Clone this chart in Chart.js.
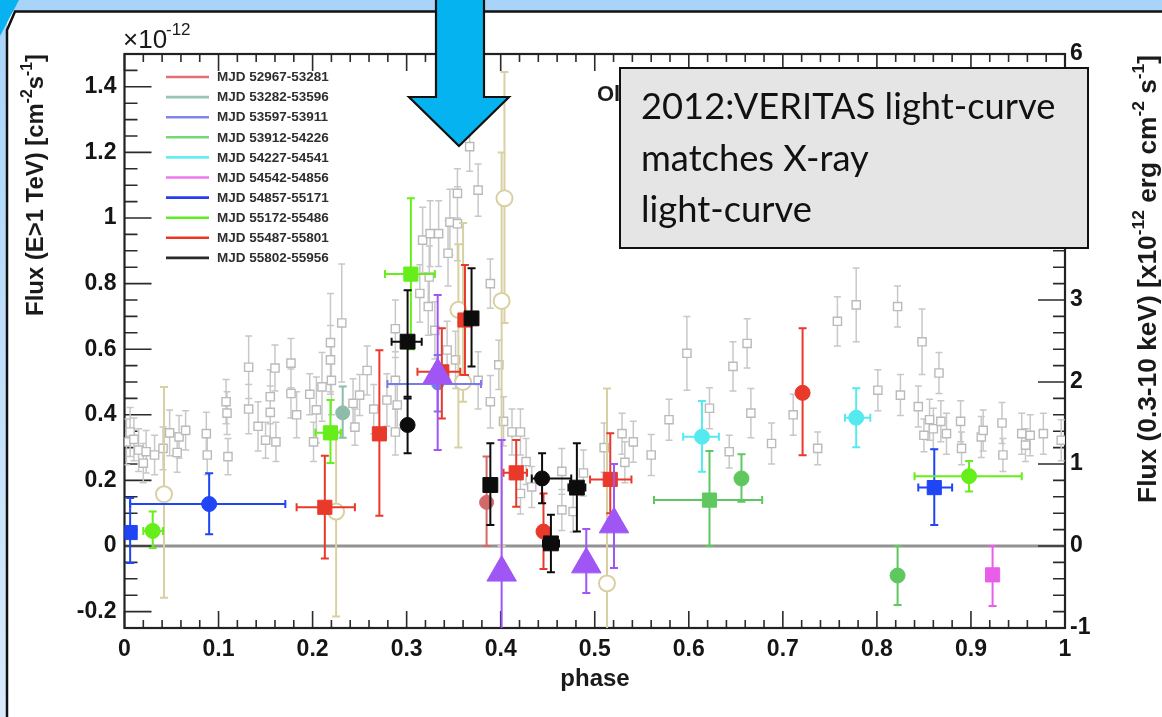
<!DOCTYPE html>
<html>
<head>
<meta charset="utf-8">
<title>VERITAS light-curve vs X-ray</title>
<script src="https://cdn.jsdelivr.net/npm/chart.js@4.4.1/dist/chart.umd.min.js"></script>
<style>
  html, body { margin: 0; padding: 0; background: #ffffff; }
  #wrap { width: 1162px; height: 717px; }
</style>
</head>
<body>
<div id="wrap"><canvas id="lightCurve" width="1162" height="717"></canvas></div>
<script>
// ---- Axis tick values ----
const phaseTicks = [0, 0.1, 0.2, 0.3, 0.4, 0.5, 0.6, 0.7, 0.8, 0.9, 1];
const tevTicks = [-0.2, 0, 0.2, 0.4, 0.6, 0.8, 1, 1.2, 1.4];
const xrayTicks = [-1, 0, 1, 2, 3, 4, 5, 6];

// ---- X-ray light-curve (right axis, x10^-12 erg cm^-2 s^-1) ----
const xrayPhase = [0.002, 0.006, 0.010, 0.015, 0.020, 0.023, 0.032, 0.041, 0.048, 0.056, 0.058, 0.065, 0.087, 0.088,
  0.108, 0.109, 0.110, 0.132, 0.132, 0.142, 0.150, 0.155, 0.155, 0.160, 0.161, 0.177, 0.177, 0.183, 0.197, 0.201,
  0.204, 0.210, 0.219, 0.219, 0.220, 0.231, 0.243, 0.245, 0.250, 0.258, 0.265, 0.279, 0.288, 0.288, 0.290, 0.288,
  0.314, 0.317, 0.323, 0.324, 0.325, 0.330, 0.334, 0.343, 0.344, 0.346, 0.352, 0.354, 0.354, 0.367, 0.376, 0.376,
  0.389, 0.389, 0.398, 0.403, 0.412, 0.421, 0.421, 0.427, 0.433, 0.465, 0.465, 0.477, 0.488, 0.510, 0.529, 0.532,
  0.541, 0.560, 0.579, 0.598, 0.622, 0.643, 0.647, 0.662, 0.666, 0.688, 0.711, 0.737, 0.758, 0.778, 0.801, 0.822,
  0.825, 0.844, 0.848, 0.850, 0.856, 0.860, 0.866, 0.868, 0.874, 0.889, 0.890, 0.911, 0.913, 0.933, 0.934, 0.954,
  0.958, 0.963, 0.977, 0.996];
const xrayFlux = [1.27, 1.39, 1.30, 1.17, 1.01, 1.15, 1.11, 1.19, 1.38, 1.14, 1.33, 1.41, 1.37, 1.11,
  1.76, 1.62, 1.09, 2.18, 1.67, 1.46, 1.29, 1.82, 1.63, 2.17, 1.27, 2.23, 1.86, 1.60, 1.85, 1.27,
  1.66, 1.94, 2.27, 2.48, 2.02, 2.72, 1.74, 1.45, 1.84, 2.14, 1.67, 1.78, 2.65, 2.02, 1.72, 1.39,
  3.08, 3.73, 2.92, 3.28, 3.81, 2.63, 3.81, 2.39, 3.57, 3.95, 2.27, 4.30, 3.93, 4.87, 4.34, 2.02,
  3.20, 1.76, 2.21, 1.52, 1.39, 1.39, 0.64, 1.03, 0.72, 0.91, 0.44, 0.42, 0.89, 1.20, 1.37, 1.02,
  1.27, 1.11, 1.54, 2.35, 1.68, 1.15, 2.19, 2.47, 1.62, 1.25, 1.60, 1.19, 2.74, 2.94, 1.90, 2.92,
  1.84, 1.70, 2.49, 1.35, 1.54, 1.43, 2.11, 1.52, 1.37, 1.52, 1.19, 1.33, 1.41, 1.50, 1.11, 1.37,
  1.23, 1.35, 1.37, 1.29];
const xrayErr = [0.28, 0.30, 0.26, 0.26, 0.24, 0.26, 0.24, 0.26, 0.28, 0.24, 0.26, 0.24, 0.26, 0.24,
  0.27, 0.26, 0.22, 0.38, 0.30, 0.30, 0.22, 0.33, 0.32, 0.28, 0.24, 0.30, 0.30, 0.28, 0.25, 0.24,
  0.40, 0.42, 0.42, 0.60, 0.42, 0.72, 0.30, 0.22, 0.25, 0.30, 0.30, 0.32, 0.35, 0.35, 0.30, 0.28,
  0.35, 0.40, 0.35, 0.38, 0.40, 0.35, 0.40, 0.35, 0.40, 0.40, 0.35, 0.30, 0.45, 0.30, 0.32, 0.35,
  0.30, 0.32, 0.30, 0.30, 0.28, 0.28, 0.25, 0.28, 0.25, 0.28, 0.25, 0.25, 0.28, 0.30, 0.25, 0.25,
  0.25, 0.25, 0.25, 0.45, 0.25, 0.20, 0.30, 0.30, 0.30, 0.25, 0.25, 0.20, 0.30, 0.45, 0.25, 0.25,
  0.25, 0.25, 0.40, 0.20, 0.25, 0.25, 0.25, 0.25, 0.25, 0.25, 0.20, 0.25, 0.25, 0.25, 0.20, 0.25,
  0.20, 0.25, 0.25, 0.25];

// ---- VERITAS TeV points (left axis, 10^-12 cm^-2 s^-1) ----
// row: phase, flux, phaseLo, phaseHi, fluxLo, fluxHi
const mjd52967Circles = [[0.385, 0.133, null, null, 0.0, 0.273]];
const mjd53282Circles = [[0.232, 0.406, null, null, 0.33, 0.486]];
const mjd53597Circles = [[0.333, 0.494, 0.2796, 0.379, 0.41, 0.582]];
const mjd53912Squares = [[0.622, 0.140, 0.563, 0.678, 0.0, 0.29]];
const mjd53912Circles = [[0.656, 0.206, null, null, 0.135, 0.28], [0.822, -0.09, null, null, -0.18, 0.0]];
const mjd54227Circles = [[0.614, 0.333, 0.594, 0.632, 0.226, 0.442], [0.778, 0.391, 0.766, 0.793, 0.301, 0.481]];
const mjd54542Squares = [[0.923, -0.088, null, null, -0.183, 0.0]];
const mjd54857Squares = [[0.006, 0.041, 0.0, 0.012, -0.052, 0.146], [0.861, 0.178, 0.844, 0.880, 0.064, 0.295]];
const mjd54857Circles = [[0.090, 0.128, 0.006, 0.171, 0.036, 0.222]];
const mjd55172Squares = [[0.219, 0.345, 0.203, 0.230, 0.253, 0.445], [0.3045, 0.829, 0.277, 0.330, 0.6, 1.06]];
const mjd55172Circles = [[0.030, 0.046, 0.020, 0.041, -0.006, 0.105], [0.898, 0.213, 0.840, 0.954, 0.166, 0.259]];
const mjd55487Squares = [[0.213, 0.118, 0.183, 0.245, -0.038, 0.275], [0.271, 0.342, null, null, 0.092, 0.597],
  [0.3374, 0.531, 0.3115, 0.357, 0.389, 0.664], [0.362, 0.689, null, null, 0.521, 0.857],
  [0.4165, 0.223, 0.403, 0.428, 0.12, 0.323], [0.5165, 0.203, 0.495, 0.539, 0.1, 0.344]];
const mjd55487Circles = [[0.4455, 0.044, null, null, -0.07, 0.16], [0.721, 0.467, null, null, 0.277, 0.664]];
const mjd55802Squares = [[0.301, 0.623, 0.284, 0.316, 0.455, 0.78], [0.369, 0.694, null, null, 0.547, 0.847],
  [0.389, 0.186, 0.383, 0.395, 0.064, 0.313], [0.4534, 0.008, 0.445, 0.462, -0.08, 0.095],
  [0.481, 0.178, 0.472, 0.49, 0.044, 0.313]];
const mjd55802Circles = [[0.301, 0.369, null, null, 0.283, 0.45], [0.444, 0.206, 0.433, 0.475, 0.13, 0.283]];
const triangles2012 = [[0.333, 0.521, null, null, 0.293, 0.765], [0.401, -0.081, null, null, -0.3, 0.323],
  [0.491, -0.056, null, null, -0.143, 0.052], [0.5205, 0.066, null, null, -0.067, 0.25]];
const openCircles = [[0.042, 0.158, null, null, -0.158, 0.485], [0.225, 0.105, null, null, -0.215, 0.35],
  [0.355, 0.72, null, null, 0.30, 0.92], [0.360, 0.50, null, null, 0.44, 0.985],
  [0.404, 1.06, null, null, 0.68, 1.445], [0.401, 0.747, null, null, 0.0, 1.2],
  [0.513, -0.114, null, null, -0.3, 0.48]];

const legendLabels = ['MJD 52967-53281', 'MJD 53282-53596', 'MJD 53597-53911', 'MJD 53912-54226',
  'MJD 54227-54541', 'MJD 54542-54856', 'MJD 54857-55171', 'MJD 55172-55486', 'MJD 55487-55801', 'MJD 55802-55956'];
const legendColors = ['#e07272', '#98c4b2', '#8383ee', '#74d874', '#66eeee', '#ee78ee', '#2a3cf0', '#5cee24', '#ec3424', '#2a2a2a'];

const FONT = '"Liberation Sans", Arial, Helvetica, sans-serif';

// Build a Chart.js scatter dataset from rows
const makeSeries = (rows, opts) => ({
  data: rows.map(r => ({ x: r[0], y: r[1], xlo: r[2], xhi: r[3], ylo: r[4], yhi: r[5] })),
  yAxisID: 'yL',
  pointStyle: opts.style,
  pointRadius: opts.radius,
  backgroundColor: opts.fill || opts.color,
  borderColor: opts.color,
  pointBorderWidth: opts.border || 1,
  errColor: opts.color,
  errWidth: opts.errWidth || 2,
  capSize: 4,
  order: opts.order
});

const xraySeries = {
  data: xrayPhase.map((p, i) => ({ x: p, y: xrayFlux[i], xlo: null, xhi: null, ylo: xrayFlux[i] - xrayErr[i], yhi: xrayFlux[i] + xrayErr[i] })),
  yAxisID: 'yR',
  pointStyle: 'rect',
  pointRadius: 5.8,
  backgroundColor: '#ffffff',
  borderColor: '#bababa',
  pointBorderWidth: 1.4,
  errColor: '#c8c8c8',
  errWidth: 1.5,
  capSize: 3.5,
  order: 30
};

const datasets = [
  xraySeries,
  makeSeries(openCircles, { style: 'circle', radius: 8, color: '#d9d0a2', fill: '#ffffff', border: 2, order: 20 }),
  makeSeries(mjd52967Circles, { style: 'circle', radius: 7, color: '#d26868', order: 14 }),
  makeSeries(mjd53282Circles, { style: 'circle', radius: 7, color: '#8fbcaa', order: 13 }),
  makeSeries(mjd53597Circles, { style: 'circle', radius: 6, color: '#7a7af0', order: 12 }),
  makeSeries(mjd53912Squares, { style: 'rect', radius: 10, color: '#5ec85e', order: 11 }),
  makeSeries(mjd53912Circles, { style: 'circle', radius: 7.5, color: '#5ec85e', order: 11 }),
  makeSeries(mjd54227Circles, { style: 'circle', radius: 7.5, color: '#55eaf0', order: 10 }),
  makeSeries(mjd54542Squares, { style: 'rect', radius: 10, color: '#e85ee8', order: 9 }),
  makeSeries(mjd54857Squares, { style: 'rect', radius: 10, color: '#1f45f5', order: 8 }),
  makeSeries(mjd54857Circles, { style: 'circle', radius: 7.5, color: '#1f45f5', order: 8 }),
  makeSeries(mjd55172Squares, { style: 'rect', radius: 10, color: '#66ee1a', order: 7 }),
  makeSeries(mjd55172Circles, { style: 'circle', radius: 7.5, color: '#66ee1a', order: 7 }),
  makeSeries(mjd55487Squares, { style: 'rect', radius: 10, color: '#e8392a', order: 6 }),
  makeSeries(mjd55487Circles, { style: 'circle', radius: 7.5, color: '#e8392a', order: 6 }),
  makeSeries(mjd55802Squares, { style: 'rect', radius: 10.5, color: '#0c0c0c', order: 5 }),
  makeSeries(mjd55802Circles, { style: 'circle', radius: 7.5, color: '#0c0c0c', order: 5 }),
  makeSeries(triangles2012, { style: 'triangle', radius: 17, color: '#a055f5', order: 3 })
];

// Draw text with superscript parts, scaled so the whole string spans `length` px
const drawRich = (ctx, parts, x, y, length, weight, align) => {
  const measure = size => {
    let total = 0;
    parts.forEach(([t, sup]) => {
      ctx.font = `${weight} ${sup ? size * 0.66 : size}px ${FONT}`;
      total += ctx.measureText(t).width;
    });
    return total;
  };
  const size = 20 * length / measure(20);
  const total = measure(size);
  let cx = align === 'right' ? x - total : (align === 'center' ? x - total / 2 : x);
  ctx.textAlign = 'left';
  ctx.textBaseline = 'alphabetic';
  parts.forEach(([t, sup]) => {
    ctx.font = `${weight} ${sup ? size * 0.66 : size}px ${FONT}`;
    ctx.fillText(t, cx, sup ? y - size * 0.45 : y);
    cx += ctx.measureText(t).width;
  });
};

// Slide background: blue bands, corner and panel border
const slideBackground = {
  id: 'slideBackground',
  beforeDraw(chart) {
    const ctx = chart.ctx;
    ctx.save();
    ctx.fillStyle = '#ffffff';
    ctx.fillRect(0, 0, chart.width, chart.height);
    const g = ctx.createLinearGradient(0, 0, 0, chart.height);
    g.addColorStop(0, '#a9d4fa');
    g.addColorStop(1, '#d9ebfb');
    ctx.fillStyle = '#a9d4fa';
    ctx.fillRect(0, 0, chart.width, 11);
    ctx.fillStyle = g;
    ctx.fillRect(0, 0, 7, chart.height);
    ctx.fillStyle = '#08b2f0';
    ctx.beginPath();
    ctx.moveTo(0, 0); ctx.lineTo(19, 0); ctx.lineTo(0, 36); ctx.closePath();
    ctx.fill();
    ctx.strokeStyle = '#111';
    ctx.lineWidth = 2.5;
    ctx.beginPath();
    ctx.moveTo(chart.width, 11.5); ctx.lineTo(15, 11.5); ctx.lineTo(7, 30); ctx.lineTo(7, chart.height);
    ctx.stroke();
    ctx.restore();
  }
};

// ROOT style frame, ticks and zero line
const rootFrame = {
  id: 'rootFrame',
  beforeDatasetsDraw(chart) {
    const { ctx, chartArea: a, scales } = chart;
    const xs = scales.x, yl = scales.yL, yr = scales.yR;
    ctx.save();
    // zero line
    const y0 = yl.getPixelForValue(0);
    ctx.strokeStyle = '#929292';
    ctx.lineWidth = 3;
    ctx.beginPath(); ctx.moveTo(a.left, y0); ctx.lineTo(a.right, y0); ctx.stroke();

    ctx.strokeStyle = '#2b2b2b';
    ctx.lineWidth = 1.6;
    ctx.beginPath();
    // x ticks (bottom and top)
    for (let i = 0; i <= 50; i++) {
      const px = xs.getPixelForValue(i / 50);
      const len = i % 5 === 0 ? 17 : 8;
      ctx.moveTo(px, a.bottom); ctx.lineTo(px, a.bottom - len);
      ctx.moveTo(px, a.top); ctx.lineTo(px, a.top + len);
    }
    // left ticks
    for (let i = -5; i <= 30; i++) {
      const py = yl.getPixelForValue(i * 0.05);
      const len = i % 4 === 0 ? 27 : 13;
      ctx.moveTo(a.left, py); ctx.lineTo(a.left + len, py);
    }
    // right ticks
    for (let i = -5; i <= 30; i++) {
      const py = yr.getPixelForValue(i * 0.2);
      const len = i % 5 === 0 ? 27 : 12;
      ctx.moveTo(a.right, py); ctx.lineTo(a.right - len, py);
    }
    ctx.stroke();
    ctx.lineWidth = 2.2;
    ctx.strokeStyle = '#222';
    ctx.strokeRect(a.left, a.top, a.right - a.left, a.bottom - a.top);
    ctx.restore();
  }
};

// Vertical and horizontal error bars with end caps
const errorBars = {
  id: 'errorBars',
  beforeDatasetDraw(chart, args) {
    const ds = chart.data.datasets[args.index];
    const xs = chart.scales.x, ys = chart.scales[ds.yAxisID];
    const { ctx, chartArea: a } = chart;
    const cap = ds.capSize;
    ctx.save();
    ctx.beginPath();
    ctx.rect(a.left, a.top, a.right - a.left, a.bottom - a.top);
    ctx.clip();
    ctx.strokeStyle = ds.errColor;
    ctx.lineWidth = ds.errWidth;
    ctx.beginPath();
    ds.data.forEach(p => {
      const px = xs.getPixelForValue(p.x), py = ys.getPixelForValue(p.y);
      if (p.ylo != null) {
        const t = ys.getPixelForValue(p.yhi), b = ys.getPixelForValue(p.ylo);
        ctx.moveTo(px, t); ctx.lineTo(px, b);
        ctx.moveTo(px - cap, t); ctx.lineTo(px + cap, t);
        ctx.moveTo(px - cap, b); ctx.lineTo(px + cap, b);
      }
      if (p.xlo != null) {
        const l = xs.getPixelForValue(p.xlo), r = xs.getPixelForValue(p.xhi);
        ctx.moveTo(l, py); ctx.lineTo(r, py);
        ctx.moveTo(l, py - cap); ctx.lineTo(l, py + cap);
        ctx.moveTo(r, py - cap); ctx.lineTo(r, py + cap);
      }
    });
    ctx.stroke();
    ctx.restore();
  }
};

// Legend, titles, text box and the arrow on top
const overlays = {
  id: 'overlays',
  afterDraw(chart) {
    const ctx = chart.ctx;
    ctx.save();

    // legend
    legendLabels.forEach((label, i) => {
      const y = 77 + i * 20.1;
      ctx.strokeStyle = legendColors[i];
      ctx.lineWidth = 2.6;
      ctx.beginPath(); ctx.moveTo(166, y); ctx.lineTo(209, y); ctx.stroke();
      ctx.fillStyle = '#2e2e2e';
      ctx.font = `bold 13.5px ${FONT}`;
      ctx.textAlign = 'left';
      ctx.textBaseline = 'middle';
      ctx.fillText(label, 217, y + 0.5);
    });

    ctx.fillStyle = '#1a1a1a';
    // x10^-12 multiplier
    ctx.textBaseline = 'alphabetic';
    ctx.textAlign = 'left';
    ctx.font = `26px ${FONT}`;
    ctx.fillText('\u00d710', 123, 48);
    ctx.font = `17px ${FONT}`;
    ctx.fillText('-12', 166, 35);

    // axis titles
    ctx.save();
    ctx.translate(43, 54);
    ctx.rotate(-Math.PI / 2);
    drawRich(ctx, [['Flux (E>1 TeV) [cm', false], ['-2', true], ['s', false], ['-1', true], [']', false]], 0, 0, 262, 'bold', 'right');
    ctx.restore();

    ctx.save();
    ctx.translate(1156, 55);
    ctx.rotate(-Math.PI / 2);
    drawRich(ctx, [['Flux (0.3-10 keV) [x10', false], ['-12', true], [' erg cm', false], ['-2', true], [' s', false], ['-1', true], [']', false]], 0, 0, 448, 'bold', 'right');
    ctx.restore();

    ctx.font = `bold 24px ${FONT}`;
    ctx.textAlign = 'center';
    ctx.fillText('phase', 595, 686);

    // plot title mostly hidden behind the box
    ctx.textAlign = 'left';
    ctx.font = `bold 22px ${FONT}`;
    ctx.fillText('Ol', 597, 101);

    // annotation box
    ctx.fillStyle = '#e5e5e5';
    ctx.fillRect(620, 68, 468, 180);
    ctx.strokeStyle = '#111';
    ctx.lineWidth = 2;
    ctx.strokeRect(620, 68, 468, 180);
    ctx.fillStyle = '#111';
    let size = 32;
    ctx.font = `${size}px Lato, "Open Sans", sans-serif`;
    size = size * 414 / ctx.measureText('2012:VERITAS light-curve').width;
    ctx.font = `${size.toFixed(1)}px Lato, "Open Sans", sans-serif`;
    ctx.fillText('2012:VERITAS light-curve', 641, 119);
    ctx.fillText('matches X-ray', 641, 171);
    ctx.fillText('light-curve', 641, 222);

    // down arrow
    ctx.fillStyle = '#05b3f0';
    ctx.strokeStyle = '#111';
    ctx.lineWidth = 2.2;
    ctx.beginPath();
    ctx.moveTo(436, -3); ctx.lineTo(436, 97); ctx.lineTo(409, 97); ctx.lineTo(459, 146);
    ctx.lineTo(509, 97); ctx.lineTo(484, 97); ctx.lineTo(484, -3); ctx.closePath();
    ctx.fill(); ctx.stroke();

    ctx.restore();
  }
};

const tickFont = { family: FONT, size: 23, weight: 'bold' };
const fmtTick = v => String(Math.round(v * 100) / 100);

new Chart(document.getElementById('lightCurve'), {
  type: 'scatter',
  data: { datasets },
  options: {
    responsive: false,
    animation: false,
    devicePixelRatio: 1,
    events: [],
    layout: { padding: { top: 54, left: 0, right: 0, bottom: 0 } },
    plugins: { legend: { display: false }, tooltip: { enabled: false } },
    scales: {
      x: {
        type: 'linear', position: 'bottom', min: 0, max: 1,
        afterBuildTicks: s => { s.ticks = phaseTicks.map(v => ({ value: v })); },
        afterFit: s => { s.height = 89; },
        ticks: { font: tickFont, color: '#151515', padding: 8, maxRotation: 0, autoSkip: false, callback: fmtTick },
        grid: { display: false, drawTicks: false },
        border: { display: false }
      },
      yL: {
        type: 'linear', position: 'left', min: -0.25, max: 1.5,
        afterBuildTicks: s => { s.ticks = tevTicks.map(v => ({ value: v })); },
        afterFit: s => { s.width = 124.5; },
        ticks: { font: tickFont, color: '#151515', padding: 8, callback: fmtTick },
        grid: { display: false, drawTicks: false },
        border: { display: false }
      },
      yR: {
        type: 'linear', position: 'right', min: -1, max: 6,
        afterBuildTicks: s => { s.ticks = xrayTicks.map(v => ({ value: v })); },
        afterFit: s => { s.width = 97; },
        ticks: { font: tickFont, color: '#151515', padding: 5, callback: fmtTick },
        grid: { display: false, drawTicks: false },
        border: { display: false }
      }
    }
  },
  plugins: [slideBackground, rootFrame, errorBars, overlays]
});
</script>
</body>
</html>
